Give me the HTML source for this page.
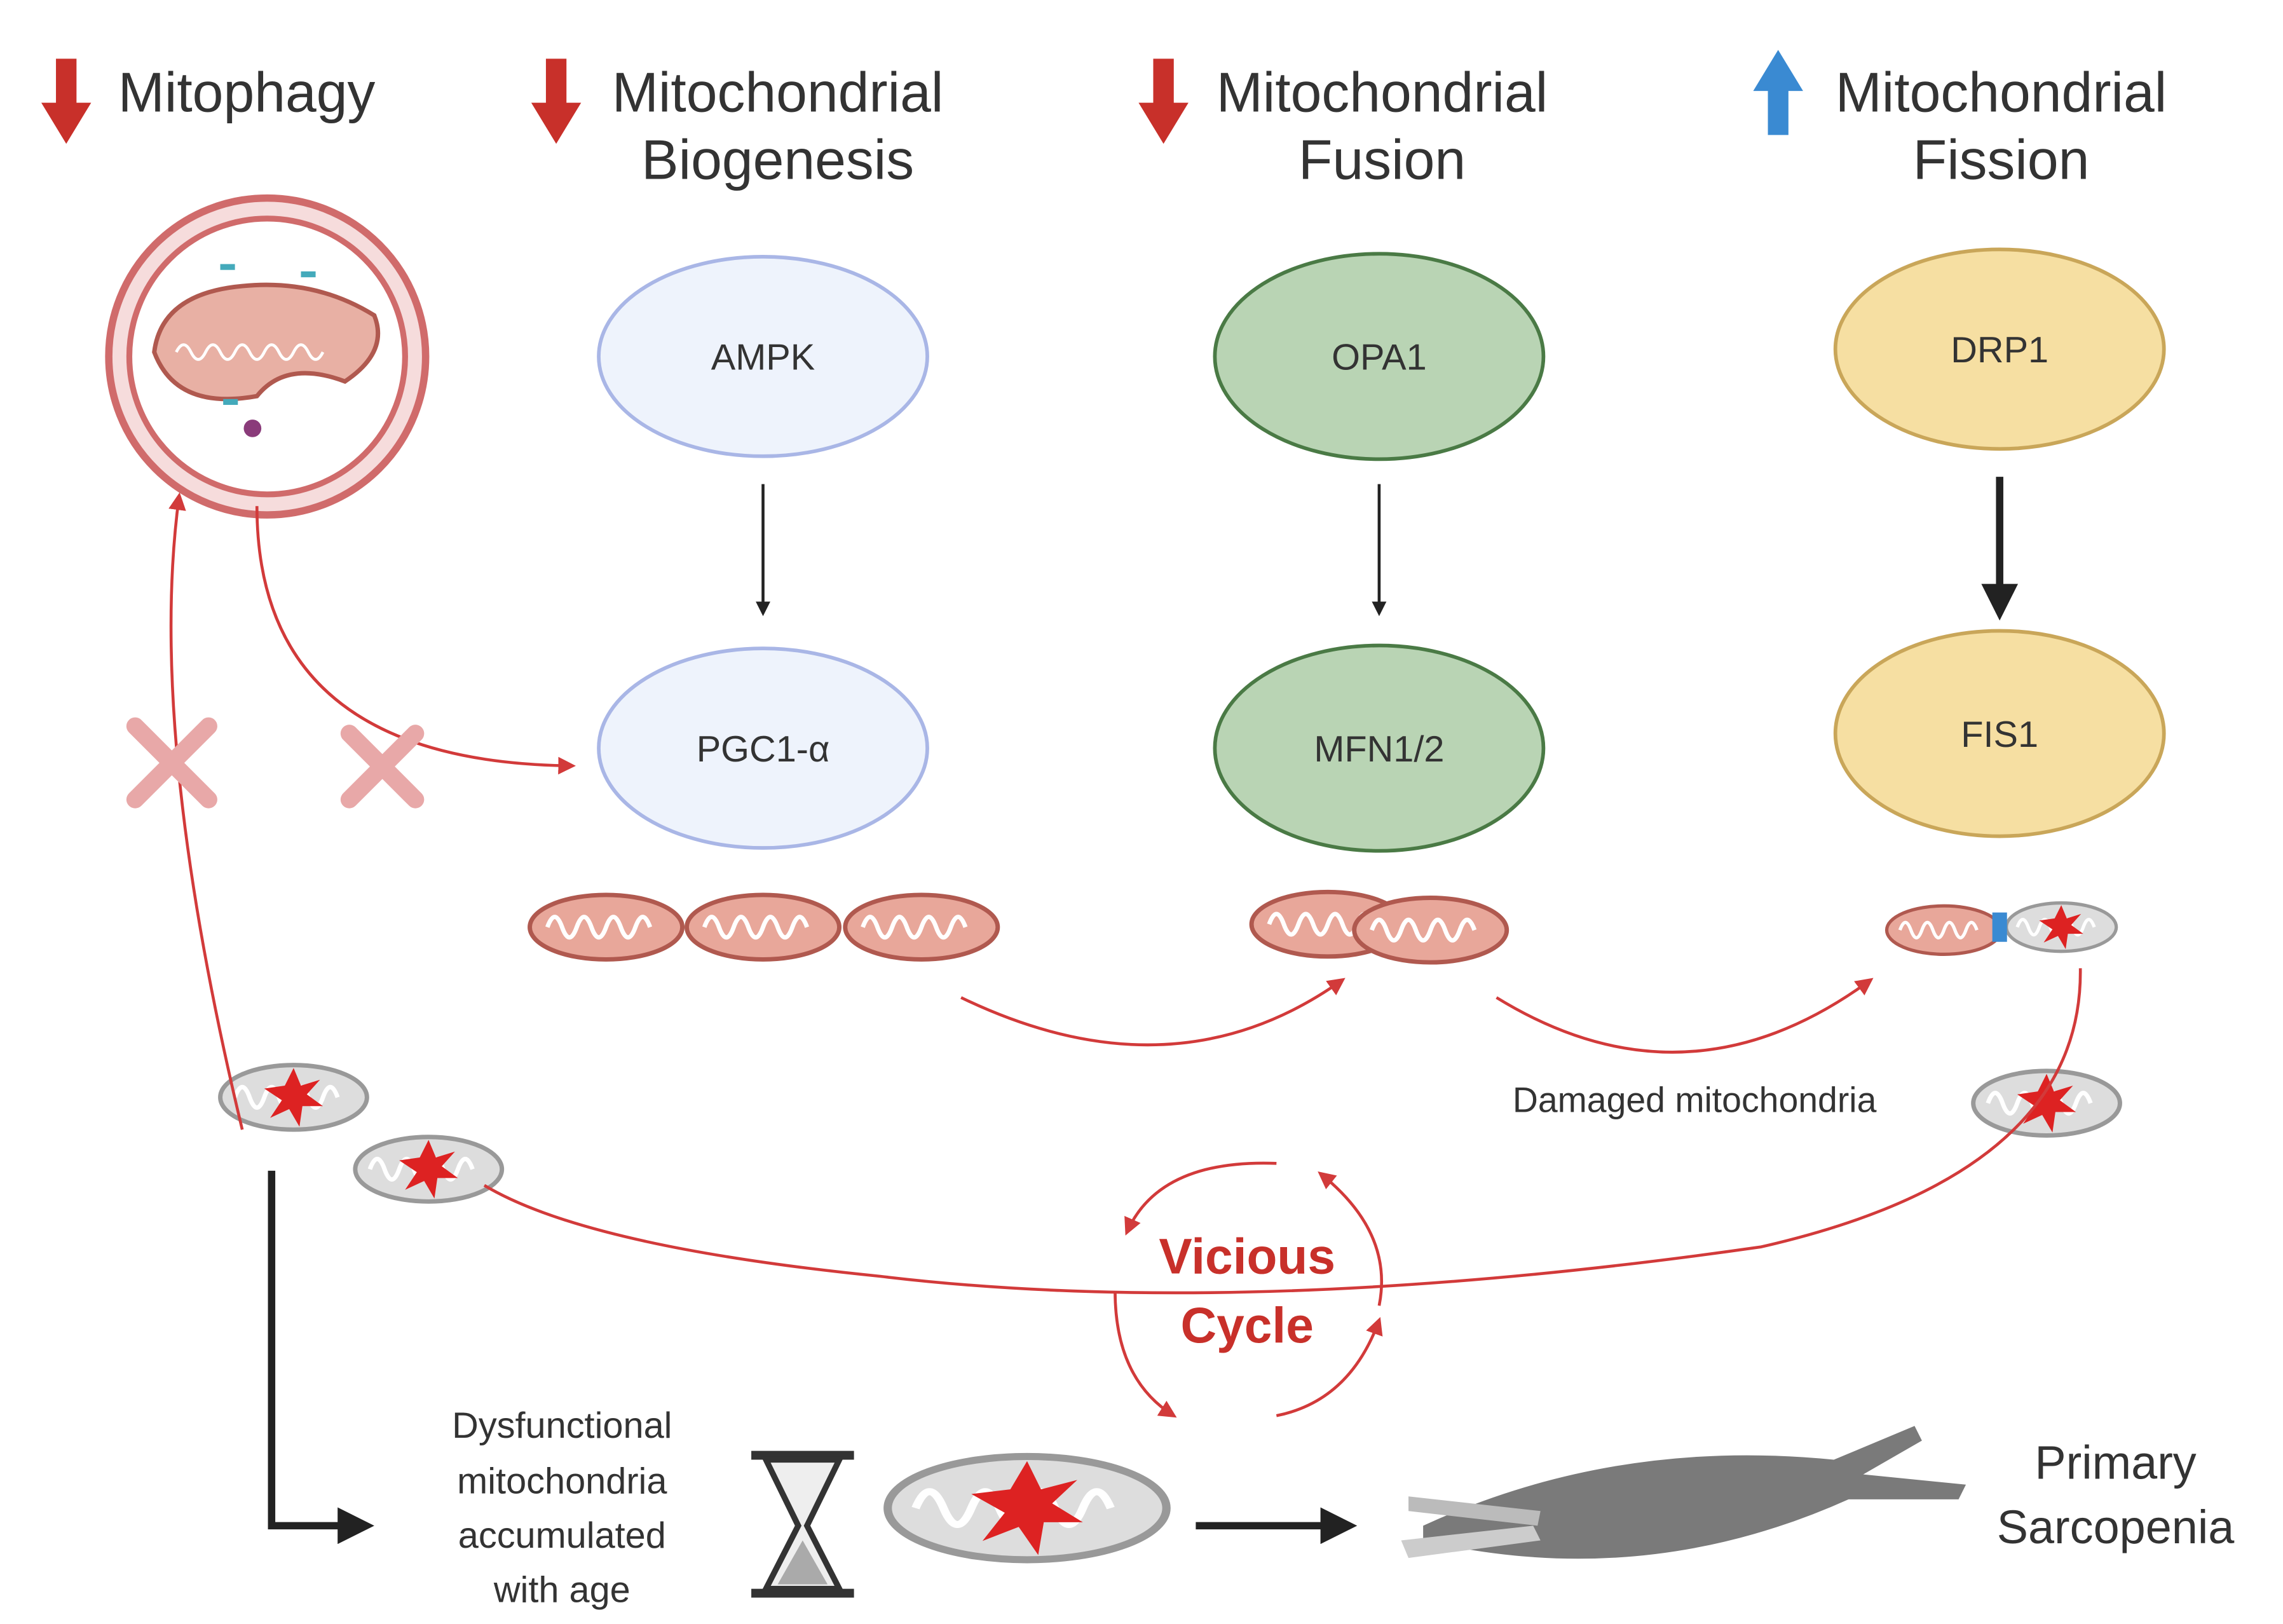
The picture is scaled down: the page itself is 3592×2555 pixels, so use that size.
<!DOCTYPE html>
<html><head><meta charset="utf-8"><style>html,body{margin:0;padding:0;background:#fff}svg{display:block}</style></head>
<body>
<svg width="3592" height="2555" viewBox="0 0 1556 1107" xmlns="http://www.w3.org/2000/svg" font-family="Liberation Sans, sans-serif">
<defs>
<marker id="ar" viewBox="0 0 10 10" refX="8" refY="5" markerWidth="6" markerHeight="6" orient="auto"><path d="M0,0L10,5L0,10z" fill="#d23a3a"/></marker>
<marker id="ak" viewBox="0 0 10 10" refX="8" refY="5" markerWidth="5" markerHeight="5" orient="auto"><path d="M0,0L10,5L0,10z" fill="#222"/></marker>
<g id="mito"><ellipse cx="0" cy="0" rx="52" ry="22" fill="#e8a79a" stroke="#b0594f" stroke-width="3"/><path d="M-40,0 q5,-14 10,0 t10,0 t10,0 t10,0 t10,0 t10,0 t10,0" fill="none" stroke="#fff" stroke-width="3"/></g>
<g id="dmg"><ellipse cx="0" cy="0" rx="50" ry="22" fill="#ddd" stroke="#999" stroke-width="3"/><path d="M-40,0 q5,-14 10,0 t10,0 t10,0 t10,0 t10,0 t10,0 t10,0" fill="none" stroke="#fff" stroke-width="3"/><polygon points="0,-20 5,-8 18,-12 9,-2 20,6 6,6 4,20 -3,8 -16,14 -8,2 -20,-6 -6,-8" fill="#d22"/></g>
</defs>
<rect width="1556" height="1107" fill="#fff"/>
<g fill="#c8302a">
<path d="M38,40h14v30h10l-17,28l-17,-28h10z"/>
<path d="M372,40h14v30h10l-17,28l-17,-28h10z"/>
<path d="M786,40h14v30h10l-17,28l-17,-28h10z"/>
</g>
<path d="M1205,92h14v-30h10l-17,-28l-17,28h10z" fill="#3a8ad2"/>
<g font-size="38" fill="#333" text-anchor="middle">
<text x="168" y="76">Mitophagy</text>
<text x="530" y="76">Mitochondrial</text><text x="530" y="122">Biogenesis</text>
<text x="942" y="76">Mitochondrial</text><text x="942" y="122">Fusion</text>
<text x="1364" y="76">Mitochondrial</text><text x="1364" y="122">Fission</text>
</g>
<circle cx="182" cy="243" r="108" fill="#f6dcdc" stroke="#d06b6b" stroke-width="5"/>
<circle cx="182" cy="243" r="94" fill="#fff" stroke="#d06b6b" stroke-width="4"/>
<path d="M105,240 q5,-40 60,-45 q50,-5 90,20 q10,25 -20,45 q-40,-15 -60,10 q-55,10 -70,-30z" fill="#e8b0a4" stroke="#b0594f" stroke-width="3"/>
<path d="M120,240 q5,-10 10,0 t10,0 t10,0 t10,0 t10,0 t10,0 t10,0 t10,0 t10,0 t10,0" fill="none" stroke="#fff" stroke-width="2"/>
<circle cx="172" cy="292" r="6" fill="#8a3b7a"/><rect x="150" y="180" width="10" height="4" fill="#4ab"/><rect x="205" y="185" width="10" height="4" fill="#4ab"/><rect x="152" y="272" width="10" height="4" fill="#4ab"/>
<g stroke-width="2.5">
<ellipse cx="520" cy="243" rx="112" ry="68" fill="#eef3fc" stroke="#a9b6e6"/>
<ellipse cx="520" cy="510" rx="112" ry="68" fill="#eef3fc" stroke="#a9b6e6"/>
<ellipse cx="940" cy="243" rx="112" ry="70" fill="#b9d4b4" stroke="#4a7a45"/>
<ellipse cx="940" cy="510" rx="112" ry="70" fill="#b9d4b4" stroke="#4a7a45"/>
<ellipse cx="1363" cy="238" rx="112" ry="68" fill="#f6dfa2" stroke="#c9a659"/>
<ellipse cx="1363" cy="500" rx="112" ry="70" fill="#f6dfa2" stroke="#c9a659"/>
</g>
<g font-size="25" fill="#333" text-anchor="middle">
<text x="520" y="252">AMPK</text><text x="520" y="519">PGC1-α</text>
<text x="940" y="252">OPA1</text><text x="940" y="519">MFN1/2</text>
<text x="1363" y="247">DRP1</text><text x="1363" y="509">FIS1</text>
</g>
<line x1="520" y1="330" x2="520" y2="418" stroke="#222" stroke-width="2" marker-end="url(#ak)"/>
<line x1="940" y1="330" x2="940" y2="418" stroke="#222" stroke-width="2" marker-end="url(#ak)"/>
<line x1="1363" y1="325" x2="1363" y2="418" stroke="#222" stroke-width="5" marker-end="url(#ak)"/>
<use href="#mito" x="413" y="632"/><use href="#mito" x="520" y="632"/><use href="#mito" x="628" y="632"/>
<use href="#mito" x="905" y="630"/><use href="#mito" x="975" y="634"/>
<use href="#mito" x="1325" y="634" transform="translate(1325,634) scale(0.75) translate(-1325,-634)"/>
<use href="#dmg" x="1405" y="632" transform="translate(1405,632) scale(0.75) translate(-1405,-632)"/>
<rect x="1358" y="622" width="10" height="20" fill="#3a8ad2"/>
<use href="#dmg" x="200" y="748"/><use href="#dmg" x="292" y="797"/><use href="#dmg" x="1395" y="752"/>
<g fill="none" stroke="#d23a3a" stroke-width="2" marker-end="url(#ar)">
<path d="M175,345 Q175,520 390,522"/>
<path d="M655,680 Q800,750 915,668"/>
<path d="M1020,680 Q1150,760 1275,668"/>
<path d="M165,770 Q100,500 122,338"/>
<path d="M1418,660 Q1420,800 1200,850 Q850,900 600,870 Q400,850 330,808" marker-end="none"/>
<path d="M870,793 Q790,790 768,840"/>
<path d="M940,890 Q950,840 900,800" />
<path d="M760,880 Q760,940 800,965"/>
<path d="M870,965 Q920,955 940,900"/>
</g>
<g stroke="#e8a8a8" stroke-width="12" stroke-linecap="round">
<path d="M92,495l50,50M142,495l-50,50"/><path d="M238,500l45,45M283,500l-45,45"/>
</g>
<text x="1155" y="758" font-size="24" fill="#333" text-anchor="middle">Damaged mitochondria</text>
<text x="850" y="868" font-size="34" font-weight="bold" fill="#c8302a" text-anchor="middle">Vicious</text>
<text x="850" y="915" font-size="34" font-weight="bold" fill="#c8302a" text-anchor="middle">Cycle</text>
<path d="M185,798V1040H250" fill="none" stroke="#222" stroke-width="5" marker-end="url(#ak)"/>
<g font-size="25" fill="#333" text-anchor="middle">
<text x="383" y="980">Dysfunctional</text><text x="383" y="1018">mitochondria</text><text x="383" y="1055">accumulated</text><text x="383" y="1092">with age</text>
<text x="1442" y="1008" font-size="32">Primary</text><text x="1442" y="1052" font-size="32">Sarcopenia</text>
</g>
<g stroke="#333" stroke-width="6" fill="none"><path d="M512,992h70M512,1086h70"/></g>
<path d="M522,995 L572,995 L550,1040 L572,1083 L522,1083 L544,1040z" fill="#eee" stroke="#333" stroke-width="4"/>
<path d="M530,1080 L547,1050 L564,1080z" fill="#aaa"/>
<g transform="translate(700,1028) scale(1.9,1.6)"><use href="#dmg"/></g>
<line x1="815" y1="1040" x2="920" y2="1040" stroke="#222" stroke-width="5" marker-end="url(#ak)"/>
<path d="M970,1040 Q1100,980 1250,995 L1305,972 L1310,982 L1270,1005 L1340,1012 L1335,1022 L1260,1022 Q1120,1085 970,1050z" fill="#7a7a7a"/>
<path d="M960,1020 L1050,1030 L1048,1040 L960,1030z" fill="#bbb"/>
<path d="M955,1050 L1045,1040 L1050,1050 L960,1062z" fill="#ccc"/>
</svg>
</body></html>
